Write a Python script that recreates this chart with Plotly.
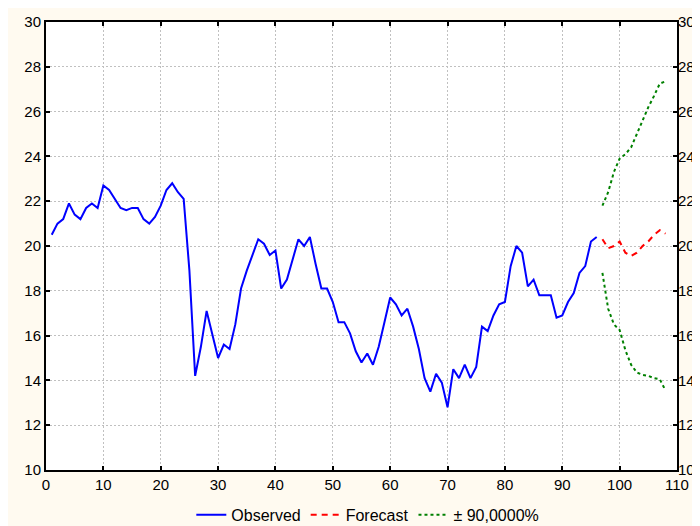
import plotly.graph_objects as go

# observed series, t = 1..96
obs_x = list(range(1, 97))
obs_y = [20.5, 21.0, 21.2, 21.9, 21.4, 21.2, 21.7, 21.9, 21.7, 22.7,
         22.5, 22.1, 21.7, 21.6, 21.7, 21.7, 21.2, 21.0, 21.3, 21.8,
         22.5, 22.8, 22.4, 22.1, 18.9, 14.2, 15.5, 17.1, 16.1, 15.0,
         15.6, 15.4, 16.5, 18.1, 18.9, 19.6, 20.3, 20.1, 19.6, 19.8,
         18.1, 18.5, 19.4, 20.3, 20.0, 20.4, 19.2, 18.1, 18.1, 17.5,
         16.6, 16.6, 16.1, 15.3, 14.8, 15.2, 14.7, 15.5, 16.6, 17.7,
         17.4, 16.9, 17.2, 16.4, 15.4, 14.1, 13.5, 14.3, 13.9, 12.8,
         14.5, 14.1, 14.7, 14.1, 14.6, 16.4, 16.2, 16.9, 17.4, 17.5,
         19.1, 20.0, 19.7, 18.2, 18.5, 17.8, 17.8, 17.8, 16.8, 16.9,
         17.5, 17.9, 18.8, 19.1, 20.2, 20.4]

# forecast, t = 97..108
fc_x = list(range(97, 109))
fc_y = [20.3, 19.9, 20.0, 20.2, 19.7, 19.55, 19.7, 20.0, 20.2, 20.5, 20.7, 20.55]
upper = [21.8, 22.4, 23.3, 23.9, 24.1, 24.4, 25.0, 25.6, 26.2, 26.7, 27.25, 27.35]
lower = [18.8, 17.2, 16.5, 16.25, 15.35, 14.7, 14.35, 14.25, 14.2, 14.1, 14.05, 13.55]

x_ticks = list(range(0, 111, 10))
y_ticks = list(range(10, 31, 2))

fig = go.Figure()
fig.add_trace(go.Scatter(x=obs_x, y=obs_y, mode="lines", name="Observed",
                         line=dict(color="#0000FF", width=2)))
fig.add_trace(go.Scatter(x=fc_x, y=fc_y, mode="lines", name="Forecast",
                         line=dict(color="#FF0000", width=2, dash="6px,5px")))
fig.add_trace(go.Scatter(x=fc_x, y=upper, mode="lines", name="± 90,0000%",
                         legendgroup="ci",
                         line=dict(color="#008000", width=2, dash="3px,3px")))
fig.add_trace(go.Scatter(x=fc_x, y=lower, mode="lines", name="± 90,0000%",
                         legendgroup="ci", showlegend=False,
                         line=dict(color="#008000", width=2, dash="3px,3px")))
# empty trace so the right-hand axis gets drawn
fig.add_trace(go.Scatter(x=[None], y=[None], yaxis="y2", showlegend=False,
                         hoverinfo="skip"))

font = dict(family="Liberation Sans, Arial, sans-serif", size=15, color="black")

fig.update_layout(
    width=700, height=526,
    margin=dict(l=38, r=31, t=14, b=64, autoexpand=False),
    paper_bgcolor="#FFFAF0",
    plot_bgcolor="white",
    font=font,
    xaxis=dict(range=[0, 110], tickvals=x_ticks, showline=True, linecolor="black",
               linewidth=2, mirror="ticks", ticks="inside", ticklen=4, tickwidth=2,
               tickcolor="black", showgrid=True, gridcolor="#c0c0c0", griddash="2px,2px",
               gridwidth=1, zeroline=False),
    yaxis=dict(range=[10, 30], tickvals=y_ticks, showline=True, linecolor="black",
               linewidth=2, mirror="ticks", ticks="inside", ticklen=4, tickwidth=2,
               tickcolor="black", showgrid=True, gridcolor="#c0c0c0", griddash="2px,2px",
               gridwidth=1, zeroline=False),
    yaxis2=dict(range=[10, 30], tickvals=y_ticks, overlaying="y", side="right",
                showgrid=False, showline=False, ticks="", zeroline=False),
    legend=dict(orientation="h", x=0.51, xanchor="center", y=-0.1, yanchor="middle",
                bgcolor="rgba(0,0,0,0)", itemwidth=30,
                font=dict(family="Liberation Sans, Arial, sans-serif", size=16,
                          color="black")),
    showlegend=True,
)

fig.write_html("out.html")
